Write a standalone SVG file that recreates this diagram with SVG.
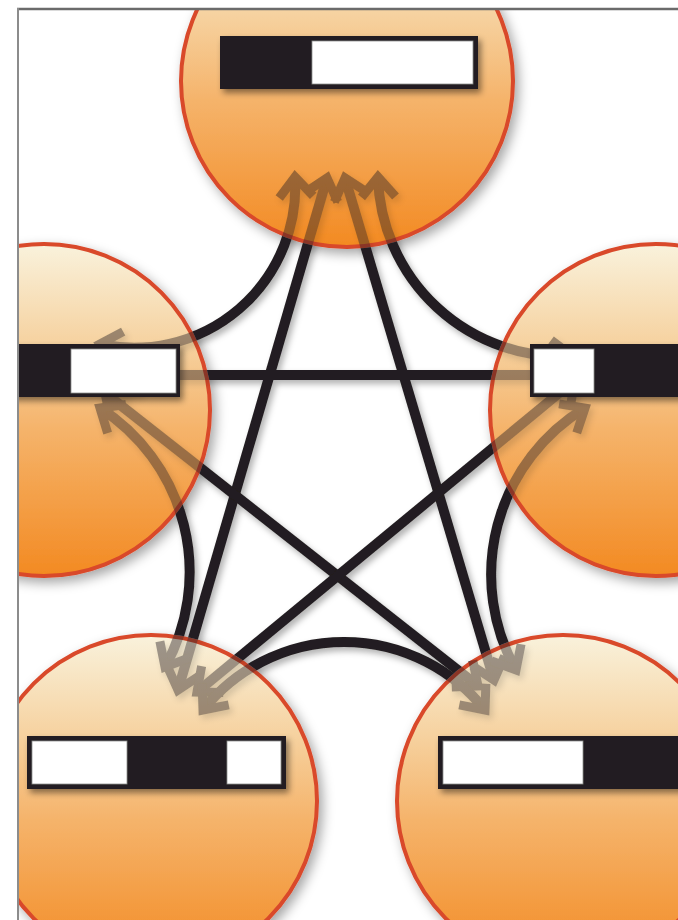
<svg xmlns="http://www.w3.org/2000/svg" width="678" height="920" viewBox="0 0 678 920">
<style>
.disc{fill:url(#og);stroke:#d9482a;stroke-width:4}
.bar{fill:#231f20}
.win{fill:#fff;stroke:#8f8f8f;stroke-width:0.8}
.edge{fill:none;stroke:#231f20;stroke-width:10;marker-start:url(#ah);marker-end:url(#ah)}
.mdisc{fill:#6e6e6e;stroke:#6e6e6e;stroke-width:4}
</style>
<defs>
<linearGradient id="og" x1="0" y1="0" x2="0" y2="1">
<stop offset="0" stop-color="#f9f2dc"/>
<stop offset="0.3" stop-color="#f6d2a0"/>
<stop offset="0.55" stop-color="#f5b46c"/>
<stop offset="1" stop-color="#f38a22"/>
</linearGradient>
<filter id="discShadow" x="-20%" y="-20%" width="140%" height="140%"><feDropShadow dx="4" dy="5" stdDeviation="6" flood-color="#000" flood-opacity="0.35"/></filter>
<filter id="lineShadow" x="-10%" y="-10%" width="120%" height="120%"><feDropShadow dx="3" dy="4" stdDeviation="3" flood-color="#000" flood-opacity="0.3"/></filter>
<filter id="barShadow" x="-10%" y="-30%" width="130%" height="170%"><feDropShadow dx="3" dy="4" stdDeviation="3" flood-color="#000" flood-opacity="0.45"/></filter>
<marker id="ah" markerUnits="userSpaceOnUse" viewBox="-30 -30 60 60" refX="0" refY="0" markerWidth="60" markerHeight="60" orient="auto-start-reverse" overflow="visible">
<path d="M-20,-17 L0,0 L-20,17" fill="none" stroke="#231f20" stroke-width="9"/>
</marker>
<clipPath id="frame"><rect x="19" y="10" width="659" height="910"/></clipPath>
<mask id="lineMask" maskUnits="userSpaceOnUse" x="0" y="0" width="678" height="920">
<rect x="0" y="0" width="678" height="920" fill="#fff"/>
<circle class="mdisc" cx="347" cy="81" r="166"/>
<circle class="mdisc" cx="44" cy="410" r="166"/>
<circle class="mdisc" cx="656" cy="410" r="166"/>
<circle class="mdisc" cx="151" cy="801" r="166"/>
<circle class="mdisc" cx="563" cy="801" r="166"/>
<g fill="#000">
<rect x="220" y="36" width="258" height="53"/>
<rect x="0" y="344" width="180" height="53"/>
<rect x="530" y="344" width="160" height="53"/>
<rect x="27" y="736" width="259" height="53"/>
<rect x="438" y="736" width="252" height="53"/>
</g>
</mask>
</defs>
<rect x="0" y="0" width="678" height="920" fill="#fff"/>
<g clip-path="url(#frame)">
<g id="node-top">
<circle class="disc" cx="347" cy="81" r="166" filter="url(#discShadow)"/>
<g filter="url(#barShadow)">
<rect class="bar" x="220" y="36" width="258" height="53"/>
<rect class="win" x="312" y="41" width="161" height="43"/>
</g>
</g>
<g id="node-left">
<circle class="disc" cx="44" cy="410" r="166" filter="url(#discShadow)"/>
<g filter="url(#barShadow)">
<rect class="bar" x="0" y="344" width="180" height="53"/>
<rect class="win" x="71" y="349" width="105" height="44"/>
</g>
</g>
<g id="node-right">
<circle class="disc" cx="656" cy="410" r="166" filter="url(#discShadow)"/>
<g filter="url(#barShadow)">
<rect class="bar" x="530" y="344" width="160" height="53"/>
<rect class="win" x="534" y="349" width="60" height="44"/>
</g>
</g>
<g id="node-bottom-left">
<circle class="disc" cx="151" cy="801" r="166" filter="url(#discShadow)"/>
<g filter="url(#barShadow)">
<rect class="bar" x="27" y="736" width="259" height="53"/>
<rect class="win" x="32" y="741" width="95" height="43"/>
<rect class="win" x="227" y="741" width="54" height="43"/>
</g>
</g>
<g id="node-bottom-right">
<circle class="disc" cx="563" cy="801" r="166" filter="url(#discShadow)"/>
<g filter="url(#barShadow)">
<rect class="bar" x="438" y="736" width="252" height="53"/>
<rect class="win" x="443" y="741" width="140" height="43"/>
</g>
</g>
<g id="connectors" mask="url(#lineMask)">
<g filter="url(#lineShadow)">
<path class="edge" d="M100,344 A161,161 0 0 0 295,177"/>
<path class="edge" d="M572,356 A184,184 0 0 1 378,177"/>
<path class="edge" d="M178,690 L327,178"/>
<path class="edge" d="M494,680 L345,178"/>
<path class="edge" d="M120,375 L580,375"/>
<path class="edge" d="M105,393 L478,686"/>
<path class="edge" d="M575,380 L197,692"/>
<path class="edge" d="M100,408 A195,195 0 0 1 165,667"/>
<path class="edge" d="M585,408 A195,195 0 0 0 516,670"/>
<path class="edge" d="M203,710 A180,180 0 0 1 485,710"/>
</g>
</g>
</g>
<line x1="17" y1="9" x2="678" y2="9" stroke="#6b6b6b" stroke-width="2.5"/>
<line x1="18" y1="8" x2="18" y2="920" stroke="#8c8c8c" stroke-width="2"/>
</svg>
